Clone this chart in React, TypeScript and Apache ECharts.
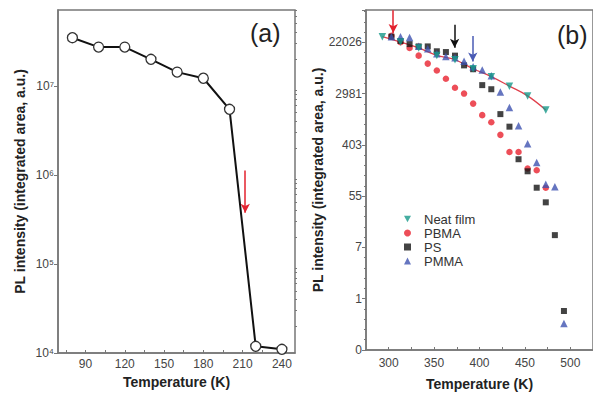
import React, { useEffect, useRef } from 'react';
import * as echarts from 'echarts';

// ---------- Panel (a) ----------
const tempA = [80, 100, 120, 140, 160, 180, 200, 220, 240];
const intensityA = [3.48e7, 2.73e7, 2.73e7, 1.99e7, 1.43e7, 1.22e7, 5.46e6, 1.19e4, 1.10e4];
const xLabelsA = [90, 120, 150, 180, 210, 240];
const xTicksA = [75, 90, 105, 120, 135, 150, 165, 180, 195, 210, 225, 240];
const arrowA = { t: 212, from: 1.12e6, to: 3.77e5 };

// ---------- Panel (b) ----------
const tempNeat = [293, 313, 333, 353, 373, 393, 413, 433, 453, 473];
const neatFilm = [27447, 22247, 17676, 13227, 11158, 7864, 5768, 3983, 2725, 1572];

const tempPBMA = [303, 313, 323, 333, 343, 353, 363, 373, 383, 393, 403, 413, 423, 433, 443, 453, 463, 473];
const pbma = [28283, 22026, 17676, 13095, 9603, 7332, 5324, 3752, 2981, 2018, 1287, 972.6, 595.8, 304.9, 305, 160.8, 149.9, 75.9];

const tempPS = [303, 313, 323, 333, 343, 353, 363, 373, 383, 393, 403, 413, 423, 433, 443, 453, 463, 473, 483, 493];
const ps = [27447, 23155, 20537, 18769, 18769, 15522, 15064, 13095, 8955, 7708, 4147, 3533, 1339, 820.5, 230.4, 144.0, 75.9, 42.9, 11.94, 0.619];

const tempPMMA = [303, 313, 323, 333, 343, 353, 363, 373, 383, 393, 403, 413, 423, 433, 443, 453, 463, 473, 483, 493];
const pmma = [27447, 27447, 26634, 18958, 17154, 14044, 12708, 12088, 10509, 8518, 7480, 6003, 3165, 1737, 854, 419.9, 202.4, 86.5, 79.1, 0.379];

const xLabelsB = [300, 350, 400, 450, 500];
const xTicksB = [300, 325, 350, 375, 400, 425, 450, 475, 500];
const arrowsB = [
  { t: 305, from: 77000, to: 31800, color: '#e3222e' },
  { t: 372.6, from: 43500, to: 17900, color: '#111111' },
  { t: 392.6, from: 28300, to: 10400, color: '#4a5bb5' },
];

const FONT = '"Liberation Sans", Arial, Helvetica, sans-serif';
const AXIS_COLOR = '#777';
const SUP: Record<string, string> = { '0': '⁰', '1': '¹', '2': '²', '3': '³', '4': '⁴', '5': '⁵', '6': '⁶', '7': '⁷', '8': '⁸', '9': '⁹' };
const DOWN_TRIANGLE = 'path://M0,0 L10,0 L5,9 Z';

const minorTicksA: number[] = [];
for (let n = 4; n <= 7; n++) {
  for (let k = 2; k <= 9; k++) {
    const v = n + Math.log10(k);
    if (v < 7.853) minorTicksA.push(v);
  }
}

export default function App() {
  const ref = useRef<HTMLDivElement>(null);
  useEffect(() => {
    if (!ref.current) return;
    const chart = echarts.init(ref.current, undefined, { renderer: 'svg' });
    const ln = (v: number) => Math.log(v);
    const lg = (v: number) => Math.log10(v);

    const tickLabel = { color: '#444', fontSize: 12, fontFamily: FONT };
    const nameStyle = { color: '#222', fontSize: 14, fontWeight: 'bold' as const, fontFamily: FONT };
    const axLine = { show: true, onZero: false, lineStyle: { color: AXIS_COLOR, width: 1.5 } };

    const arrowLine = (t: number, a: number, b: number, color: string, f: (v: number) => number) => ({
      silent: true,
      symbol: ['none', 'arrow'],
      symbolSize: [7, 9],
      label: { show: false },
      lineStyle: { color, width: 1.5, type: 'solid' },
      data: [[{ coord: [t, f(a)] }, { coord: [t, f(b)] }]],
    });

    chart.setOption({
      animation: false,
      backgroundColor: '#fff',
      textStyle: { fontFamily: FONT },
      grid: [
        { left: 58, top: 10, width: 237, height: 343, show: true, borderColor: AXIS_COLOR, borderWidth: 1.5, backgroundColor: 'transparent' },
        { left: 366, top: 10, right: -12, bottom: 43, show: true, borderColor: AXIS_COLOR, borderWidth: 1.5, backgroundColor: 'transparent' },
      ],
      xAxis: [
        {
          type: 'value', gridIndex: 0, min: 69, max: 250,
          name: 'Temperature (K)', nameLocation: 'middle', nameGap: 22, nameTextStyle: nameStyle,
          axisLine: axLine,
          axisTick: { show: true, inside: true, length: 3, customValues: xTicksA, lineStyle: { color: AXIS_COLOR } },
          axisLabel: { ...tickLabel, margin: 5, customValues: xLabelsA },
          splitLine: { show: false },
        },
        {
          type: 'value', gridIndex: 1, min: 275, max: 525,
          name: 'Temperature (K)', nameLocation: 'middle', nameGap: 27, nameTextStyle: nameStyle,
          axisLine: axLine,
          axisTick: { show: true, inside: true, length: 3, customValues: xTicksB, lineStyle: { color: AXIS_COLOR } },
          axisLabel: { ...tickLabel, margin: 7, customValues: xLabelsB },
          splitLine: { show: false },
        },
      ],
      yAxis: [
        {
          type: 'value', gridIndex: 0, min: 4, max: 7.853, interval: 1,
          name: 'PL intensity (integrated area, a.u.)', nameLocation: 'middle', nameGap: 31, nameTextStyle: nameStyle,
          axisLine: axLine,
          axisTick: { show: true, inside: false, length: 4, lineStyle: { color: AXIS_COLOR } },
          axisLabel: {
            ...tickLabel, margin: 4, showMaxLabel: false,
            formatter: (v: number) => (Number.isInteger(v) ? '10' + String(v).split('').map((c) => SUP[c]).join('') : ''),
          },
          splitLine: { show: false },
        },
        {
          type: 'value', gridIndex: 0, min: 4, max: 7.853,
          axisLine: { show: false },
          axisLabel: { show: false },
          splitLine: { show: false },
          axisTick: { show: true, inside: false, length: 2, customValues: minorTicksA, lineStyle: { color: AXIS_COLOR } },
        },
        {
          type: 'value', gridIndex: 1, min: -2, max: 11.26, interval: 2,
          name: 'PL intensity (integrated area, a.u.)', nameLocation: 'middle', nameGap: 37, nameTextStyle: nameStyle,
          axisLine: axLine,
          axisTick: { show: true, inside: false, length: 4, lineStyle: { color: AXIS_COLOR } },
          minorTick: { show: true, splitNumber: 5, length: 2, lineStyle: { color: AXIS_COLOR } },
          axisLabel: {
            ...tickLabel, margin: 4, showMaxLabel: false,
            formatter: (v: number) => (Math.abs(v - Math.round(v)) < 1e-6 ? String(Math.round(Math.exp(v))) : ''),
          },
          splitLine: { show: false },
        },
      ],
      legend: {
        data: [{ name: 'Neat film', icon: DOWN_TRIANGLE }, 'PBMA', 'PS', 'PMMA'],
        orient: 'vertical', left: 399, top: 207, itemGap: 0,
        itemWidth: 7, itemHeight: 7,
        textStyle: { color: '#333', fontSize: 13, fontFamily: FONT, padding: [0, 0, 0, 8], lineHeight: 14 },
      },
      graphic: [
        { type: 'text', left: 250, top: 20, style: { text: '(a)', fontSize: 25, fill: '#222', fontFamily: FONT } },
        { type: 'text', left: 557, top: 22, style: { text: '(b)', fontSize: 25, fill: '#222', fontFamily: FONT } },
      ],
      series: [
        {
          type: 'line', xAxisIndex: 0, yAxisIndex: 0,
          data: tempA.map((t, i) => [t, lg(intensityA[i])]),
          symbol: 'circle', symbolSize: 10,
          itemStyle: { color: '#fff', borderColor: '#333', borderWidth: 1.3 },
          lineStyle: { color: '#111', width: 2 },
          markLine: arrowLine(arrowA.t, arrowA.from, arrowA.to, '#e3222e', lg),
          z: 3,
        },
        {
          name: 'PBMA', type: 'scatter', xAxisIndex: 1, yAxisIndex: 2,
          data: tempPBMA.map((t, i) => [t, ln(pbma[i])]),
          symbol: 'circle', symbolSize: 6.5,
          itemStyle: { color: '#e8222e' },
          markLine: arrowLine(arrowsB[0].t, arrowsB[0].from, arrowsB[0].to, arrowsB[0].color, ln),
        },
        {
          name: 'PS', type: 'scatter', xAxisIndex: 1, yAxisIndex: 2,
          data: tempPS.map((t, i) => [t, ln(ps[i])]),
          symbol: 'rect', symbolSize: 6,
          itemStyle: { color: '#141414' },
          markLine: arrowLine(arrowsB[1].t, arrowsB[1].from, arrowsB[1].to, arrowsB[1].color, ln),
        },
        {
          name: 'PMMA', type: 'scatter', xAxisIndex: 1, yAxisIndex: 2,
          data: tempPMMA.map((t, i) => [t, ln(pmma[i])]),
          symbol: 'triangle', symbolSize: 7.5,
          itemStyle: { color: '#3f52b0' },
          markLine: arrowLine(arrowsB[2].t, arrowsB[2].from, arrowsB[2].to, arrowsB[2].color, ln),
        },
        {
          name: 'Neat film', type: 'scatter', xAxisIndex: 1, yAxisIndex: 2,
          data: tempNeat.map((t, i) => [t, ln(neatFilm[i])]),
          symbol: 'triangle', symbolRotate: 180, symbolSize: 7.5,
          itemStyle: { color: '#16998a' },
        },
        {
          name: 'fit', type: 'line', xAxisIndex: 1, yAxisIndex: 2,
          data: tempNeat.map((t, i) => [t, ln(neatFilm[i])]),
          smooth: 0.4, showSymbol: false, symbol: 'none',
          lineStyle: { color: '#e0404c', width: 1.3 },
          z: 1,
        },
      ],
    });
    return () => chart.dispose();
  }, []);
  return <div ref={ref} style={{ position: 'fixed', left: 0, top: 0, width: 593, height: 396, background: '#fff' }} />;
}
